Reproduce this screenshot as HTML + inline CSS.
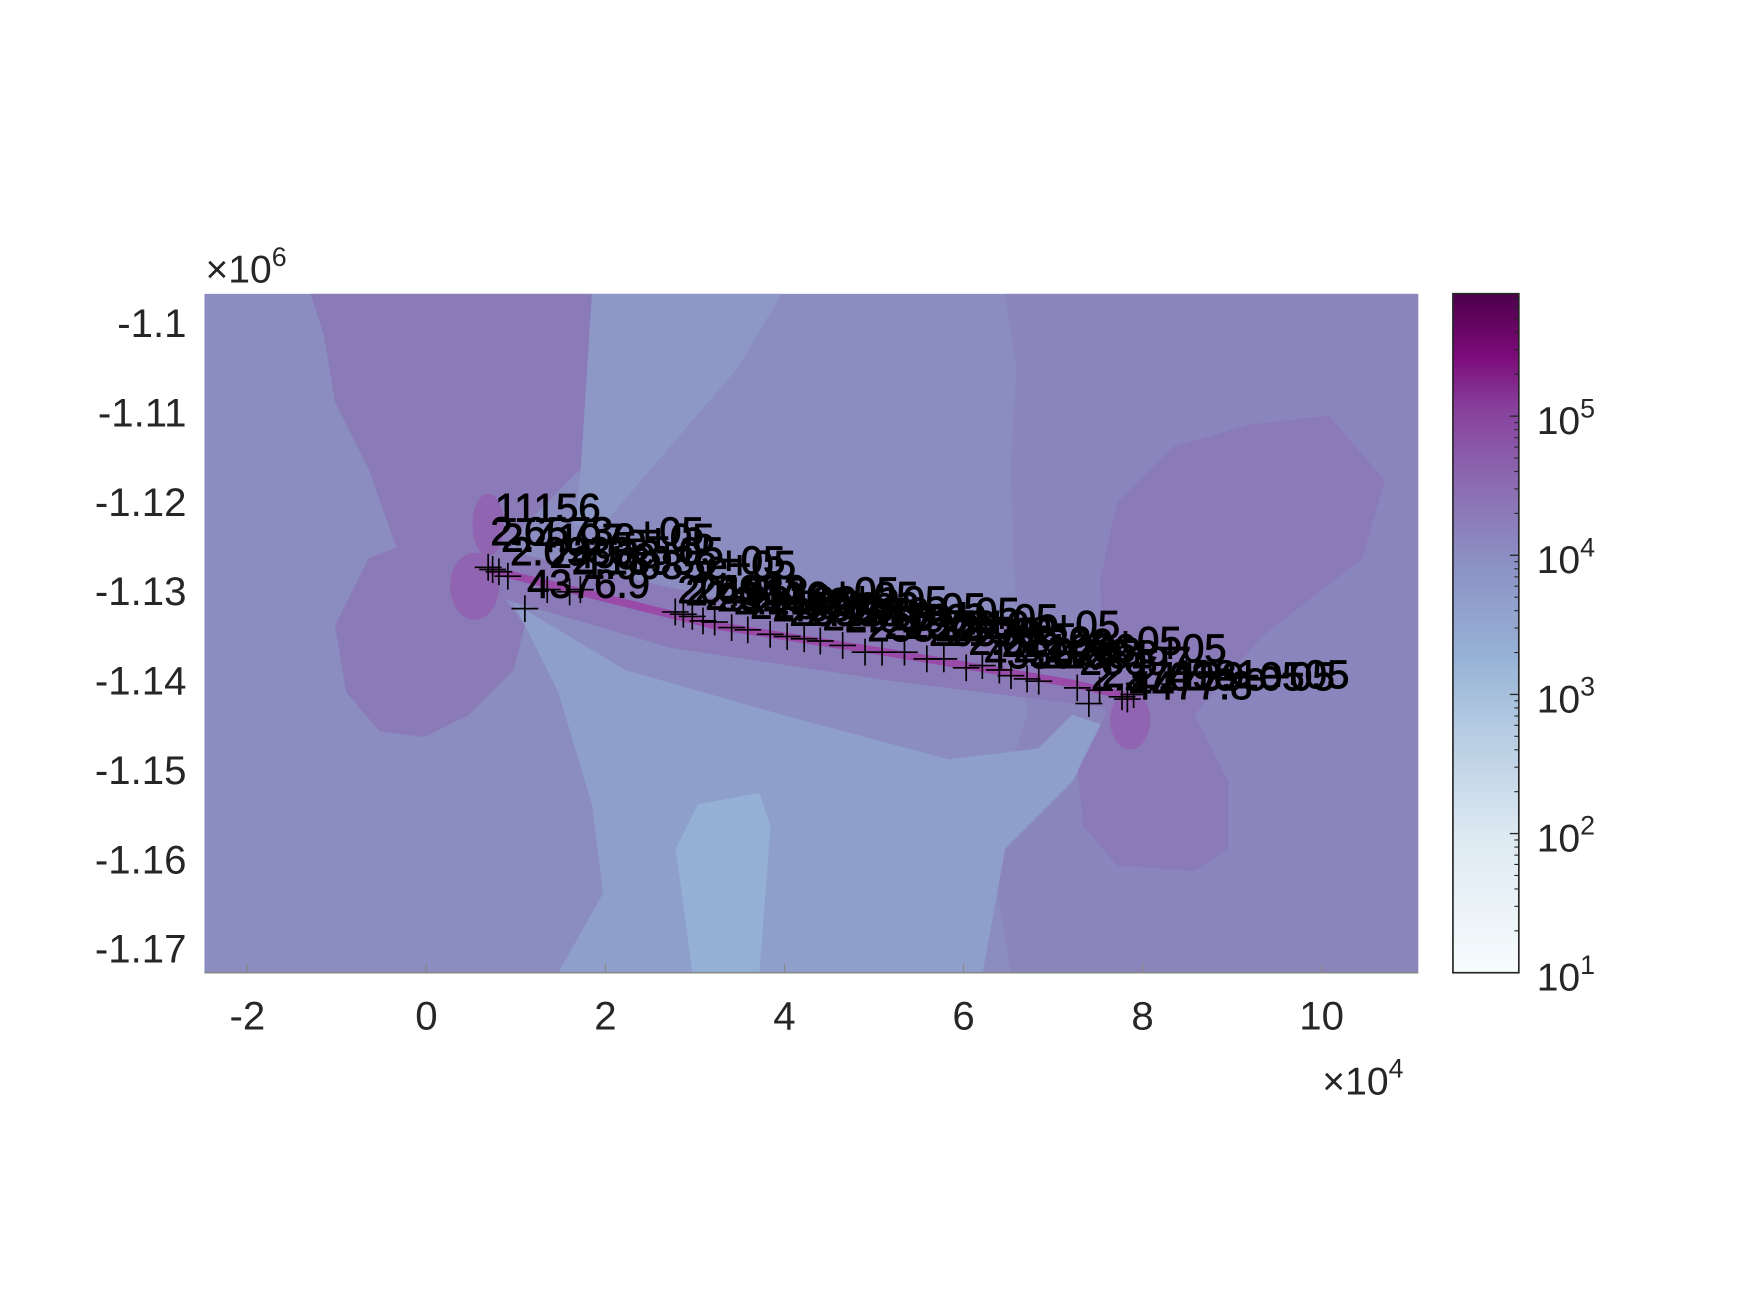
<!DOCTYPE html>
<html><head><meta charset="utf-8"><style>
html,body{margin:0;padding:0;background:#fff;}
svg{display:block;font-family:"Liberation Sans",sans-serif;}
</style></head><body>
<svg id="chart" width="1750" height="1313" viewBox="0 0 1567 1175.7" preserveAspectRatio="none" xmlns="http://www.w3.org/2000/svg">
<defs>
<linearGradient id="cbg" x1="0" y1="1" x2="0" y2="0">
<stop offset="0" stop-color="#f7fcfd"/>
<stop offset="0.2" stop-color="#dde9f2"/>
<stop offset="0.36" stop-color="#b4cbe2"/>
<stop offset="0.46" stop-color="#97b3d6"/>
<stop offset="0.6" stop-color="#8c92c5"/>
<stop offset="0.72" stop-color="#8c6bb1"/>
<stop offset="0.83" stop-color="#88419d"/>
<stop offset="0.91" stop-color="#7c0a79"/>
<stop offset="1" stop-color="#4d004b"/>
</linearGradient>
<clipPath id="plotclip"><rect x="183" y="263" width="1087" height="608"/></clipPath>
</defs>
<g id="contours" clip-path="url(#plotclip)">
<rect x="183" y="263" width="1087" height="608" fill="#8b8dc0"/>
<polygon fill="#8a86bd" points="900,263 1270,263 1270,871 905,871 890,780 900,700 920,640 910,560 905,420 910,330"/>
<polygon fill="#8d98c7" points="530,263 700,263 660,330 600,400 540,470 515,470 520,420"/>
<polygon fill="#8f9fcb" points="460,540 560,600 700,640 850,680 930,670 960,640 990,650 960,700 900,760 880,871 500,871 540,800 530,720 500,620"/>
<polygon fill="#8a7bb8" points="278,263 530,263 520,420 470,470 440,520 470,560 460,600 420,640 380,660 340,655 310,620 300,560 330,500 355,490 330,420 300,360 290,300"/>
<polygon fill="#8a7bb8" points="1050,400 1120,380 1190,372 1240,430 1220,500 1130,570 1070,640 1100,700 1100,760 1070,780 1000,775 970,740 965,690 990,640 985,520 1000,450"/>
<polygon fill="#94b0d4" points="625,720 680,710 690,740 680,871 620,871 605,760"/>
<polygon fill="#8a7bb8" points="440,490 640,535 900,560 1040,600 1040,640 960,630 800,610 600,580 430,530"/>
<ellipse cx="425" cy="525" rx="22" ry="30" fill="#9064b0"/>
<ellipse cx="437" cy="470" rx="14" ry="28" fill="#9064b0"/>
<ellipse cx="1012" cy="645" rx="18" ry="26" fill="#9064b0"/>
<polyline fill="none" stroke="#9a4aa8" stroke-width="7" points="437,510 520,530 640,560 800,585 960,612 1015,625"/>
</g>
<line x1="183" y1="871" x2="1270" y2="871" stroke="#888" stroke-width="1.5"/>
<g id="marks"></g>
<g id="xticks"></g>
<g id="yticks"></g>
<text x="1184" y="980" font-size="35" fill="#262626">×10<tspan font-size="24" dy="-15">4</tspan></text>
<text x="184" y="253" font-size="35" fill="#262626">×10<tspan font-size="24" dy="-15">6</tspan></text>
<rect x="1301" y="263" width="59" height="608" fill="url(#cbg)" stroke="#262626" stroke-width="1.5"/>
<g id="cbticks"></g>
</svg>
<script>
const pointX = [0.69,0.74,0.81,0.91,1.10,1.35,1.60,1.72,2.78,2.87,2.97,3.09,3.22,3.41,3.59,3.84,4.03,4.22,4.40,4.65,4.90,5.09,5.34,5.59,5.78,6.03,6.21,6.40,6.53,6.71,6.84,7.27,7.40,7.52,7.77,7.83,7.90];
const pointY = [-1.12725,-1.12750,-1.12775,-1.12825,-1.13188,-1.12975,-1.13000,-1.12975,-1.13225,-1.13250,-1.13275,-1.13325,-1.13338,-1.13400,-1.13425,-1.13475,-1.13500,-1.13525,-1.13550,-1.13600,-1.13675,-1.13675,-1.13675,-1.13750,-1.13750,-1.13850,-1.13825,-1.13875,-1.13938,-1.13975,-1.14000,-1.14075,-1.14250,-1.14100,-1.14175,-1.14200,-1.14150];
const pointLabels = ["2.6573e+05","11156","2.4197e+05","2.0933e+05","4376.9","24933","2.1893e+05","1.9085e+05","20161","2.4312e+05","26933","2.0516e+05","23102","2.2188e+05","21803","2.3330e+05","20988","2.1573e+05","22013","2.0199e+05","23812","21306","2.2519e+05","20330","21908","2.0122e+05","4356.3","22390","2.1066e+05","20203","21881","23097","2.3701e+05","2","2.1139e+05","4477.8","2.4981e+05"];
const labelDy = [-32,-55,-30,-22,-22,-32,-28,-22,-20,-20,-24,-22,-22,-24,-22,-24,-22,-24,-22,-24,-22,-24,-24,-24,-24,-24,-10,-24,-24,-24,-24,-24,-24,-15,-18,-12,-18];
const xTicks = [-2,0,2,4,6,8,10];
const yTicks = [-1.1,-1.11,-1.12,-1.13,-1.14,-1.15,-1.16,-1.17];
const cbTicks = [1,2,3,4,5];
const NS="http://www.w3.org/2000/svg";
const X0=183,X1=1270,Y0=263,Y1=871;
const xmin=-2.48,xmax=11.08,ymin=-1.17263,ymax=-1.09663;
const cbmin=1,cbmax=5.88;
function sx(v){return X0+(v-xmin)/(xmax-xmin)*(X1-X0);}
function sy(v){return Y1-(v-ymin)/(ymax-ymin)*(Y1-Y0);}
function cy(v){return Y1-(v-cbmin)/(cbmax-cbmin)*(Y1-Y0);}
function mk(tag,attrs,parent){const e=document.createElementNS(NS,tag);for(const k in attrs)e.setAttribute(k,attrs[k]);parent.appendChild(e);return e;}
const marks=document.getElementById('marks');
for(let i=0;i<pointX.length;i++){
  const px=sx(pointX[i]),py=sy(pointY[i]);
  const g=mk('g',{},marks);
  
  
  mk('line',{x1:px-12,y1:py,x2:px+12,y2:py,stroke:'#000','stroke-width':1.5},g);
  mk('line',{x1:px,y1:py-12,x2:px,y2:py+12,stroke:'#000','stroke-width':1.5},g);
  const t=mk('text',{x:px+2,y:py+labelDy[i]+12,'font-size':36,fill:'#000',stroke:'#000','stroke-width':0.8},g);
  
  
  t.textContent=pointLabels[i];
}
const xg=document.getElementById('xticks');
for(const v of xTicks){
  const x=sx(v);
  mk('line',{x1:x,y1:Y1,x2:x,y2:Y1-8,stroke:'#888','stroke-width':1.2},xg);
  const t=mk('text',{x:x,y:922,'font-size':36,fill:'#262626','text-anchor':'middle'},xg);
  
  
  t.textContent=String(v);
}
const yg=document.getElementById('yticks');
for(const v of yTicks){
  const y=sy(v);
  const t=mk('text',{x:167,y:y+12,'font-size':36,fill:'#262626','text-anchor':'end'},yg);
  
  
  t.textContent=String(v);
}
const cg=document.getElementById('cbticks');
for(const d of cbTicks){
  const y=cy(d);
  mk('line',{x1:1360,y1:y,x2:1352,y2:y,stroke:'#262626','stroke-width':1.2},cg);
  for(let m=2;m<=9;m++){
    const ym=cy(d+Math.log10(m));
    if(ym>Y0) mk('line',{x1:1360,y1:ym,x2:1356,y2:ym,stroke:'#262626','stroke-width':1},cg);
  }
  const t=mk('text',{x:1376,y:y+16,'font-size':35,fill:'#262626'},cg);
  
  
  t.innerHTML='10<tspan font-size="24" dy="-15">'+d+'</tspan>';
}
</script>
</body></html>
